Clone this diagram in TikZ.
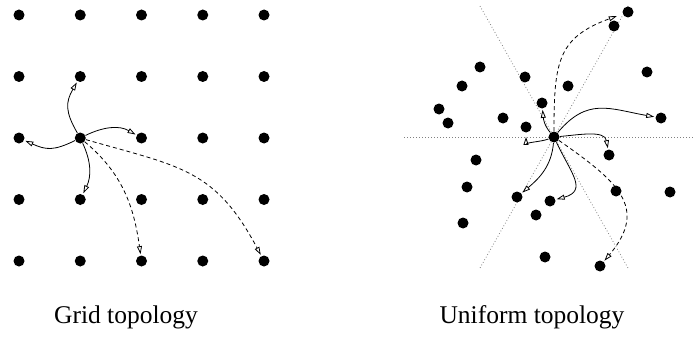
\documentclass[tikz,border=0pt]{standalone}
\usepackage{fontspec}
\setmainfont{Liberation Serif}
\usetikzlibrary{arrows.meta}

\begin{document}
\begin{tikzpicture}[x=1pt, y=1pt, thick,
    dot/.style = {circle, fill, inner sep=0pt, minimum size=11pt},
    link/.style = {-{Triangle[open, length=8pt, width=5pt]}, shorten >=1pt},
    far/.style = {link, dash pattern=on 4pt off 3pt},
    guide/.style = {gray, line width=0.8pt, dash pattern=on 0.8pt off 2.2pt},
    caption/.style = {anchor=base, font=\fontsize{25.5}{30}\selectfont}]
    \useasboundingbox (0,0) rectangle (695,338);

    % grid topology
    \foreach \i in {1,...,5}
        \foreach \j in {1,...,5}
            \node[dot] (g\i\j) at ({19+61.25*(\i-1)}, {323-61.5*(\j-1)}) {};
    \draw[link] (g23) to[out=120, in=-120, looseness=1.2] (g22);
    \draw[link] (g23) to[out=26, in=150] (g33);
    \draw[link] (g23) to[out=206, in=-24, looseness=1.2] (g13);
    \draw[link] (g23) to[out=-65, in=64] (g24);
    \draw[far] (g23) to[out=-40, in=98] (g35);
    \draw[far] (g23) to[out=-16, in=118, looseness=1.2] (g55);
    \node[caption] (gridlabel) at (126,15) {Grid topology};

    % uniform topology
    \coordinate (h1) at (404,201);
    \coordinate (h2) at (694,201);
    \coordinate (d1) at (480,332);
    \coordinate (d2) at (628,70);
    \coordinate (d3) at (628,332);
    \coordinate (d4) at (480,70);
    \draw[guide] (h1) -- (h2);
    \draw[guide] (d1) -- (d2);
    \draw[guide] (d3) -- (d4);

    \node[dot] (c) at (554,201) {};
    \node[dot] (u1) at (628,326) {};
    \node[dot] (u2) at (614,312) {};
    \node[dot] (u3) at (480,271) {};
    \node[dot] (u4) at (525,261) {};
    \node[dot] (u5) at (462,252) {};
    \node[dot] (u6) at (568,252) {};
    \node[dot] (u7) at (647,266) {};
    \node[dot] (u8) at (439,229) {};
    \node[dot] (u9) at (542,235) {};
    \node[dot] (u10) at (448,215) {};
    \node[dot] (u11) at (503,220) {};
    \node[dot] (u12) at (526,211) {};
    \node[dot] (u13) at (661,220) {};
    \node[dot] (u14) at (609,183) {};
    \node[dot] (u15) at (476,178) {};
    \node[dot] (u16) at (467,151) {};
    \node[dot] (u17) at (616,147) {};
    \node[dot] (u18) at (670,146) {};
    \node[dot] (u19) at (517,141) {};
    \node[dot] (u20) at (550,137) {};
    \node[dot] (u21) at (536,123) {};
    \node[dot] (u22) at (463,115) {};
    \node[dot] (u23) at (545,81) {};
    \node[dot] (u24) at (600,72) {};
    \draw[link] (c) to[out=130, in=-85] (u9);
    \draw[link, shorten >=4pt] (c) to[out=200, in=-90] (u12);
    \draw[link] (c) to[out=50, in=170, looseness=1.2] (u13);
    \draw[link] (c) to[out=5, in=100] (u14);
    \draw[link] (c) to[out=-95, in=40] (u19);
    \draw[link] (c) to[out=-65, in=15, looseness=1.5] (u20);
    \draw[far, shorten >=6pt] (c) to[out=90, in=200, looseness=1.3] (u1);
    \draw[far] (c) to[out=-35, in=50, looseness=1.4] (u24);
    \node[caption] (unilabel) at (532,15) {Uniform topology};
\end{tikzpicture}
\end{document}
